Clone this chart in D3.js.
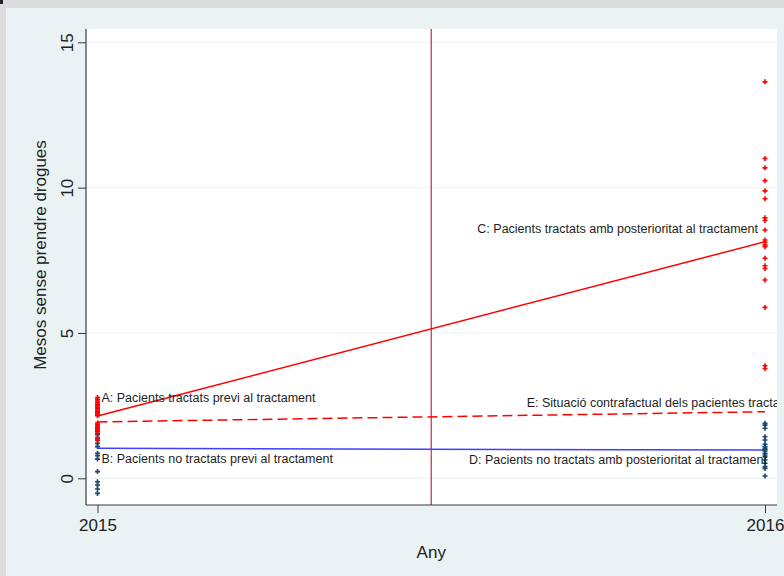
<!DOCTYPE html>
<html>
<head>
<meta charset="utf-8">
<script src="https://cdn.jsdelivr.net/npm/d3@7"></script>
<style>
  html, body { margin: 0; padding: 0; background: #eaf2f3; }
  svg { display: block; font-family: "Liberation Sans", Arial, sans-serif; }
</style>
</head>
<body>
<svg id="chart" width="784" height="576"></svg>
<script>
// Years on the x axis
const years = [2015, 2016];
const xTickLabels = ["2015", "2016"];
const yTicks = [0, 5, 10, 15];
const interventionYear = 2015.5;

// Individual observations (months without drugs)
const treated2015 = [2.78, 2.72, 2.66, 2.6, 2.55, 2.5, 2.45, 2.4, 2.35, 2.3, 2.25, 2.2, 2.15,
                     1.9, 1.85, 1.8, 1.75, 1.7, 1.65, 1.6, 1.55, 1.4, 1.3];
const control2015 = [1.75, 1.5, 1.35, 1.2, 1.09, 0.86, 0.78, 0.66, 0.23, -0.12, -0.23, -0.37, -0.52];
const treated2016 = [13.64, 11.0, 10.68, 10.24, 9.89, 9.62, 8.96, 8.87, 8.54, 8.2, 8.12, 8.03,
                     7.97, 7.57, 7.31, 7.22, 6.82, 5.88, 3.87, 3.78];
const control2016 = [1.89, 1.83, 1.72, 1.43, 1.32, 1.17, 1.09, 1.03, 0.98, 0.94, 0.86, 0.8,
                     0.74, 0.63, 0.52, 0.4, 0.34, 0.08];

// Group lines: values at 2015 and 2016
const treatedLine = [2.14, 8.14];
const controlLine = [1.03, 0.97];
const counterfactualLine = [1.94, 2.29];

// Annotations
const labelTexts = [
  "A: Pacients tractats previ al tractament",
  "B: Pacients no tractats previ al tractament",
  "C: Pacients tractats amb posterioritat al tractament",
  "D: Pacients no tractats amb posterioritat al tractament",
  "E: Situació contrafactual dels pacientes tractats"
];
const labelYears = [2015, 2015, 2016, 2016, 2015.643];
const labelValues = [2.77, 0.67, 8.58, 0.63, 2.6];
const labelAnchors = ["start", "start", "end", "end", "start"];
const labelShift = [4, 4, -7, 2, 0];

const svg = d3.select("#chart");
const W = 784, H = 576;

// window frame
svg.append("rect").attr("width", W).attr("height", H).attr("fill", "#eaf2f3");
svg.append("rect").attr("x", 0).attr("y", 0).attr("width", W).attr("height", 8).attr("fill", "#dcdcdc");
svg.append("rect").attr("x", 0).attr("y", 0).attr("width", 6).attr("height", H).attr("fill", "#dcdcdc");
svg.append("rect").attr("x", 0).attr("y", 0).attr("width", 3).attr("height", 4).attr("fill", "#222");

const plot = { left: 86, right: 777, top: 29, bottom: 505 };

const x = d3.scaleLinear().domain([2015, 2016]).range([97.5, 765]);
const y = d3.scaleLinear().domain([0, 15]).range([478.3, 42.3]);

svg.append("rect")
  .attr("x", plot.left).attr("y", plot.top)
  .attr("width", plot.right - plot.left).attr("height", plot.bottom - plot.top)
  .attr("fill", "#ffffff");

svg.append("clipPath").attr("id", "plotclip")
  .append("rect")
  .attr("x", plot.left).attr("y", plot.top)
  .attr("width", plot.right - plot.left).attr("height", plot.bottom - plot.top);

// gridlines
svg.append("g").selectAll("line").data(yTicks).join("line")
  .attr("x1", plot.left).attr("x2", plot.right)
  .attr("y1", d => y(d)).attr("y2", d => y(d))
  .attr("stroke", "#eaf2f3").attr("stroke-width", 1);

const g = svg.append("g").attr("clip-path", "url(#plotclip)");

// intervention line
g.append("line")
  .attr("x1", x(interventionYear)).attr("x2", x(interventionYear))
  .attr("y1", plot.top).attr("y2", plot.bottom)
  .attr("stroke", "#c8284a").attr("stroke-width", 1.2);

// group lines
const line = d3.line().x((d, i) => x(years[i])).y(d => y(d));
g.append("path").datum(counterfactualLine).attr("d", line)
  .attr("fill", "none").attr("stroke", "#ff0000").attr("stroke-width", 1.5)
  .attr("stroke-dasharray", "10,5");
g.append("path").datum(controlLine).attr("d", line)
  .attr("fill", "none").attr("stroke", "#3f3fff").attr("stroke-width", 1.5);
g.append("path").datum(treatedLine).attr("d", line)
  .attr("fill", "none").attr("stroke", "#ff0000").attr("stroke-width", 1.5);

// observation markers (small plus signs)
const plus = "M-2.5,0H2.5M0,-2.5V2.5";
function markers(values, year, color) {
  g.append("g").selectAll("path").data(values).join("path")
    .attr("d", plus)
    .attr("transform", d => `translate(${x(year)},${y(d)})`)
    .attr("stroke", color).attr("stroke-width", 1.6).attr("fill", "none");
}
markers(control2015, 2015, "#1a476f");
markers(treated2015, 2015, "#ff0000");
markers(control2016, 2016, "#1a476f");
markers(treated2016, 2016, "#ff0000");

// annotations
g.append("g").selectAll("text").data(labelTexts).join("text")
  .attr("x", (d, i) => x(labelYears[i]) + labelShift[i])
  .attr("y", (d, i) => y(labelValues[i]))
  .attr("dy", "0.35em")
  .attr("text-anchor", (d, i) => labelAnchors[i])
  .attr("font-size", 12.5)
  .attr("fill", "#1e1e1e")
  .text(d => d);

// axes
const axisColor = "#3a3a3a";
svg.append("line").attr("x1", plot.left).attr("x2", plot.left)
  .attr("y1", plot.top).attr("y2", plot.bottom).attr("stroke", axisColor).attr("stroke-width", 1.2);
svg.append("line").attr("x1", plot.left).attr("x2", plot.right)
  .attr("y1", plot.bottom).attr("y2", plot.bottom).attr("stroke", axisColor).attr("stroke-width", 1.2);

const yAxis = svg.append("g")
  .attr("transform", `translate(${plot.left},0)`)
  .call(d3.axisLeft(y).tickValues(yTicks).tickSize(8).tickFormat(d3.format("d")));
yAxis.select(".domain").remove();
yAxis.selectAll(".tick line").attr("stroke", axisColor);
yAxis.selectAll(".tick text")
  .attr("font-size", 17).attr("fill", "#222")
  .attr("font-family", "'Liberation Sans', Arial, sans-serif")
  .attr("text-anchor", "middle")
  .attr("x", 0).attr("dy", 0)
  .attr("transform", "translate(-19,0) rotate(-90)")
  .attr("y", 0)
  .attr("dominant-baseline", "central");

const xAxis = svg.append("g")
  .attr("transform", `translate(0,${plot.bottom})`)
  .call(d3.axisBottom(x).tickValues(years).tickSize(8).tickFormat((d, i) => xTickLabels[i]));
xAxis.select(".domain").remove();
xAxis.selectAll(".tick line").attr("stroke", axisColor);
xAxis.selectAll(".tick text")
  .attr("font-size", 17).attr("fill", "#222")
  .attr("font-family", "'Liberation Sans', Arial, sans-serif")
  .attr("y", 14);

// axis titles
svg.append("text")
  .attr("transform", `translate(40,${(plot.top + plot.bottom) / 2 - 12}) rotate(-90)`)
  .attr("text-anchor", "middle").attr("dominant-baseline", "central")
  .attr("font-size", 17).attr("fill", "#222")
  .text("Mesos sense prendre drogues");
svg.append("text")
  .attr("x", x(interventionYear)).attr("y", 558)
  .attr("text-anchor", "middle")
  .attr("font-size", 17).attr("fill", "#222")
  .text("Any");
</script>
</body>
</html>
